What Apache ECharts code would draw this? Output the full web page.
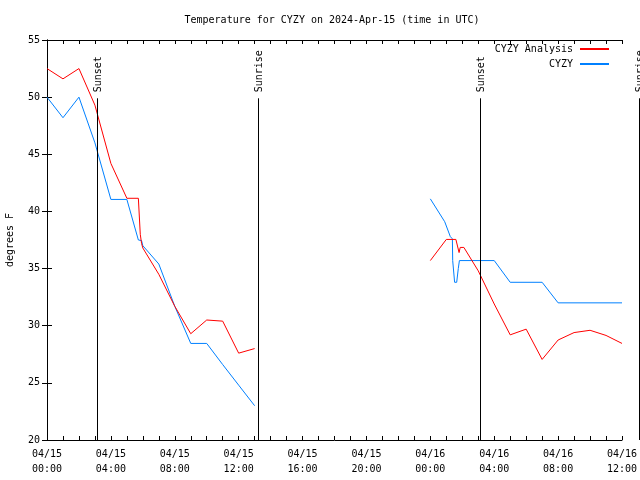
<!DOCTYPE html>
<html>
<head>
<meta charset="utf-8">
<script src="https://cdn.jsdelivr.net/npm/echarts@6/dist/echarts.min.js"></script>
<style>html,body{margin:0;padding:0;background:#fff}#c{width:640px;height:480px}</style>
</head>
<body>
<div id="c"></div>
<script>
// ---- data (hours since 04/15 00:00 UTC) ----
const titleText = 'Temperature for CYZY on 2024-Apr-15 (time in UTC)';
const yAxisName = 'degrees F';
const xTickLabels = ['04/15\n00:00','04/15\n04:00','04/15\n08:00','04/15\n12:00','04/15\n16:00','04/15\n20:00','04/16\n00:00','04/16\n04:00','04/16\n08:00','04/16\n12:00'];

const analysisName = 'CYZY Analysis';
const analysisHours1 = [0, 1, 2, 3, 4, 5, 5.72, 5.84, 5.92, 6, 7, 8, 9, 10, 11, 12, 13];
const analysisTemps1 = [52.5, 51.6, 52.5, 49.3, 44.2, 41.15, 41.15, 38.0, 37.2, 36.8, 34.5, 31.7, 29.3, 30.5, 30.4, 27.6, 28.0];
const analysisHours2 = [24, 25, 25.6, 25.8, 25.87, 26.1, 27, 28, 29, 30, 31, 32, 33, 34, 35, 36];
const analysisTemps2 = [35.7, 37.55, 37.55, 36.4, 36.85, 36.85, 34.8, 31.9, 29.2, 29.7, 27.05, 28.75, 29.4, 29.6, 29.15, 28.45];

const obsName = 'CYZY';
const obsHours1 = [0, 1, 2, 3, 4, 5, 5.72, 5.92, 6, 7, 8, 9, 10, 11, 12, 13];
const obsTemps1 = [50.0, 48.2, 50.0, 46.0, 41.05, 41.05, 37.5, 37.45, 37.0, 35.4, 31.7, 28.45, 28.45, 26.6, 24.8, 23.0];
const obsHours2 = [24, 24.9, 25.25, 25.38, 25.4, 25.5, 25.52, 25.65, 25.75, 25.82, 28, 29, 31, 32, 36];
const obsTemps2 = [41.1, 39.1, 37.8, 37.6, 35.7, 35.7, 33.8, 33.8, 35.0, 35.7, 35.7, 33.8, 33.8, 32.0, 32.0];

const eventNames = ['Sunset', 'Sunrise', 'Sunset', 'Sunrise'];
const eventHours = [3.13, 13.21, 27.11, 37.07];
const eventLineTop = 49.9;

// ---- chart ----
const FONT = 'DejaVu Sans Mono';
const zip = (xs, ys) => xs.map((x, i) => [x, ys[i]]);
const chart = echarts.init(document.getElementById('c'), null, {renderer: 'canvas'});

const axisCommon = {
  axisLine: {show: true, lineStyle: {color: '#000', width: 1}},
  splitLine: {show: false}
};

const option = {
  animation: false,
  backgroundColor: '#fff',
  title: {
    text: titleText, left: 327, top: 10, textAlign: 'center',
    textStyle: {fontFamily: FONT, fontSize: 10, fontWeight: 'normal', color: '#000'}
  },
  legend: {
    orient: 'vertical', right: 26, top: 39, align: 'right',
    itemWidth: 29, itemHeight: 2, itemGap: 5, icon: 'rect',
    textStyle: {fontFamily: FONT, fontSize: 10, color: '#000', padding: [0, 2, 0, 0]},
    data: [analysisName, obsName]
  },
  grid: {left: 47, right: 18, top: 40, bottom: 40, containLabel: false, outerBoundsMode: 'none'},
  xAxis: [
    Object.assign({}, axisCommon, {
      type: 'value', position: 'bottom', min: 0, max: 36, interval: 4,
      axisTick: {show: true, inside: true, length: 4, lineStyle: {color: '#000'}},
      minorTick: {show: true, splitNumber: 4, length: 4, lineStyle: {color: '#000'}},
      axisLabel: {
        fontFamily: FONT, fontSize: 10, color: '#000', margin: 7, lineHeight: 15,
        formatter: v => xTickLabels[Math.round(v / 4)] || ''
      }
    }),
    Object.assign({}, axisCommon, {
      type: 'value', position: 'top', min: 0, max: 36, interval: 4,
      axisTick: {show: true, inside: true, length: 4, lineStyle: {color: '#000'}},
      minorTick: {show: true, splitNumber: 4, length: 4, lineStyle: {color: '#000'}},
      axisLabel: {show: false}
    })
  ],
  yAxis: [
    Object.assign({}, axisCommon, {
      type: 'value', position: 'left', min: 20, max: 55, interval: 5,
      name: yAxisName, nameLocation: 'middle', nameGap: 32, nameRotate: 90,
      nameTextStyle: {fontFamily: FONT, fontSize: 10, color: '#000'},
      axisTick: {show: true, inside: true, length: 5, lineStyle: {color: '#000'}},
      axisLabel: {fontFamily: FONT, fontSize: 10, color: '#000', margin: 7}
    }),
    Object.assign({}, axisCommon, {
      type: 'value', position: 'right', min: 20, max: 55, interval: 5,
      axisTick: {show: true, inside: true, length: 5, lineStyle: {color: '#000'}},
      axisLabel: {show: false}
    })
  ],
  series: [
    {name: analysisName, type: 'line', data: zip(analysisHours1, analysisTemps1), showSymbol: false, symbol: 'none',
     lineStyle: {color: '#ff0000', width: 1}, itemStyle: {color: '#ff0000'}, z: 3},
    {name: analysisName, type: 'line', data: zip(analysisHours2, analysisTemps2), showSymbol: false, symbol: 'none',
     lineStyle: {color: '#ff0000', width: 1}, itemStyle: {color: '#ff0000'}, z: 3},
    {name: obsName, type: 'line', data: zip(obsHours1, obsTemps1), showSymbol: false, symbol: 'none',
     lineStyle: {color: '#0080ff', width: 1}, itemStyle: {color: '#0080ff'}, z: 2},
    {name: obsName, type: 'line', data: zip(obsHours2, obsTemps2), showSymbol: false, symbol: 'none',
     lineStyle: {color: '#0080ff', width: 1}, itemStyle: {color: '#0080ff'}, z: 2}
  ]
};
chart.setOption(option);

// event lines (Sunset / Sunrise) positioned through the axis scales
const yTop = chart.convertToPixel({yAxisIndex: 0}, eventLineTop);
const yBot = chart.convertToPixel({yAxisIndex: 0}, 20);
const graphics = [];
eventHours.forEach((h, i) => {
  const px = Math.round(chart.convertToPixel({xAxisIndex: 0}, h)) + 0.5;
  graphics.push({
    type: 'line', z: 10, silent: true,
    shape: {x1: px, y1: yTop, x2: px, y2: yBot},
    style: {stroke: '#000', lineWidth: 1}
  });
  graphics.push({
    type: 'text', z: 10, silent: true,
    x: px + 1, y: yTop - 6, rotation: Math.PI / 2,
    style: {text: eventNames[i], fontFamily: FONT, fontSize: 10, fill: '#000', align: 'left', verticalAlign: 'middle'}
  });
});
chart.setOption({graphic: graphics});
</script>
</body>
</html>
